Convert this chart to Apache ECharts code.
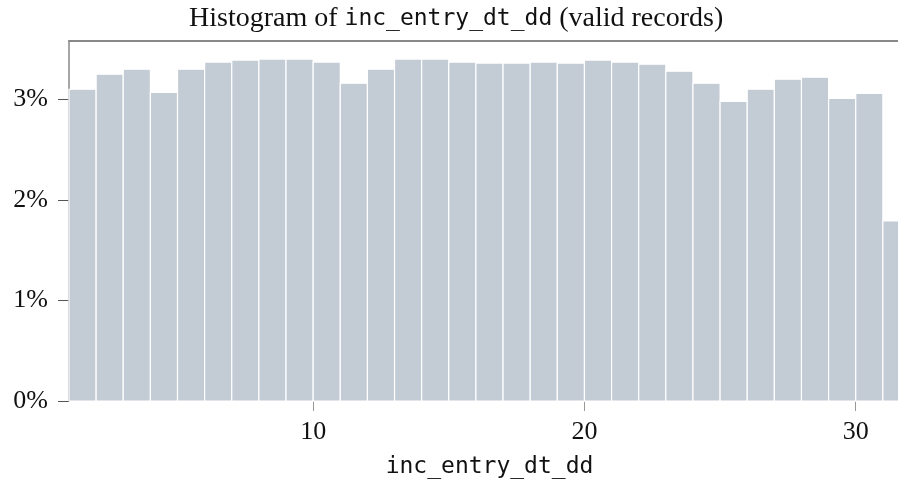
<!DOCTYPE html>
<html>
<head>
<meta charset="utf-8">
<script src="https://cdn.jsdelivr.net/npm/echarts@6/dist/echarts.min.js"></script>
<style>
  html, body { margin: 0; padding: 0; background: #fff; }
  #chart { width: 898px; height: 481px; }
</style>
</head>
<body>
<div id="chart"></div>
<script>
// bins: day of month, [start, end)
const binStart = [1, 2, 3, 4, 5, 6, 7, 8, 9, 10, 11, 12, 13, 14, 15, 16, 17, 18, 19, 20, 21, 22, 23, 24, 25, 26, 27, 28, 29, 30, 31];
const binEnd = [2, 3, 4, 5, 6, 7, 8, 9, 10, 11, 12, 13, 14, 15, 16, 17, 18, 19, 20, 21, 22, 23, 24, 25, 26, 27, 28, 29, 30, 31, 32];
// percent of valid records
const pct = [3.10, 3.25, 3.30, 3.07, 3.30, 3.37, 3.39, 3.40, 3.40, 3.37, 3.16, 3.30, 3.40, 3.40, 3.37, 3.36,
             3.36, 3.37, 3.36, 3.39, 3.37, 3.35, 3.28, 3.16, 2.98, 3.10, 3.20, 3.22, 3.01, 3.06, 1.79];
const xTicks = [10, 20, 30];
const yTicks = [0, 1, 2, 3];

const serif = "'Liberation Serif', serif";
const mono = "'DejaVu Sans Mono', monospace";

const chart = echarts.init(document.getElementById("chart"));

const data = binStart.map((s, i) => [s, binEnd[i], pct[i]]);

chart.setOption({
    animation: false,
    backgroundColor: "#fff",
    title: {
        text: "{s|Histogram of }{m|inc_entry_dt_dd}{s| (valid records)}",
        left: 189,
        top: 5,
        padding: 0,
        textStyle: {
            fontWeight: "normal",
            rich: {
                s: { fontFamily: serif, fontSize: 28, fontWeight: "normal", color: "#111" },
                m: { fontFamily: mono, fontSize: 23, fontWeight: "normal", color: "#111" }
            }
        }
    },
    grid: { left: 69, top: 41, width: 841, bottom: 80, outerBoundsMode: "none" },
    xAxis: [
        {
            type: "value",
            min: 1,
            max: 32,
            name: "inc_entry_dt_dd",
            nameLocation: "middle",
            nameGap: 55,
            nameMoveOverlap: false,
            nameTextStyle: { fontFamily: mono, fontSize: 23, color: "#111" },
            axisLine: { show: false },
            axisTick: { show: true, length: 10, customValues: xTicks, lineStyle: { color: "#999", width: 1 } },
            axisLabel: { customValues: xTicks, margin: 18, fontFamily: serif, fontSize: 26, color: "#111" },
            splitLine: { show: false }
        },
        {
            type: "value",
            position: "top",
            min: 1,
            max: 32,
            axisLine: { show: true, onZero: false, lineStyle: { color: "#888", width: 2 } },
            axisTick: { show: false },
            axisLabel: { show: false },
            splitLine: { show: false }
        }
    ],
    yAxis: {
        type: "value",
        min: 0,
        max: 3.58,
        interval: 1,
        axisLine: { show: true, lineStyle: { color: "#888", width: 1.5 } },
        axisTick: { show: true, length: 11, customValues: yTicks, lineStyle: { color: "#555", width: 1 } },
        axisLabel: {
            customValues: yTicks,
            margin: 21,
            fontFamily: serif,
            fontSize: 26,
            color: "#111",
            formatter: "{value}%"
        },
        splitLine: { show: false }
    },
    series: [
        {
            type: "custom",
            xAxisIndex: 0,
            data: data,
            encode: { x: [0, 1], y: 2 },
            renderItem: (params, api) => {
                const topLeft = api.coord([api.value(0), api.value(2)]);
                const botRight = api.coord([api.value(1), 0]);
                return {
                    type: "rect",
                    shape: {
                        x: topLeft[0],
                        y: topLeft[1],
                        width: botRight[0] - topLeft[0],
                        height: botRight[1] - topLeft[1]
                    },
                    style: { fill: "#c3cbd5", stroke: "#fff", lineWidth: 1.2 }
                };
            }
        }
    ]
});
</script>
</body>
</html>
